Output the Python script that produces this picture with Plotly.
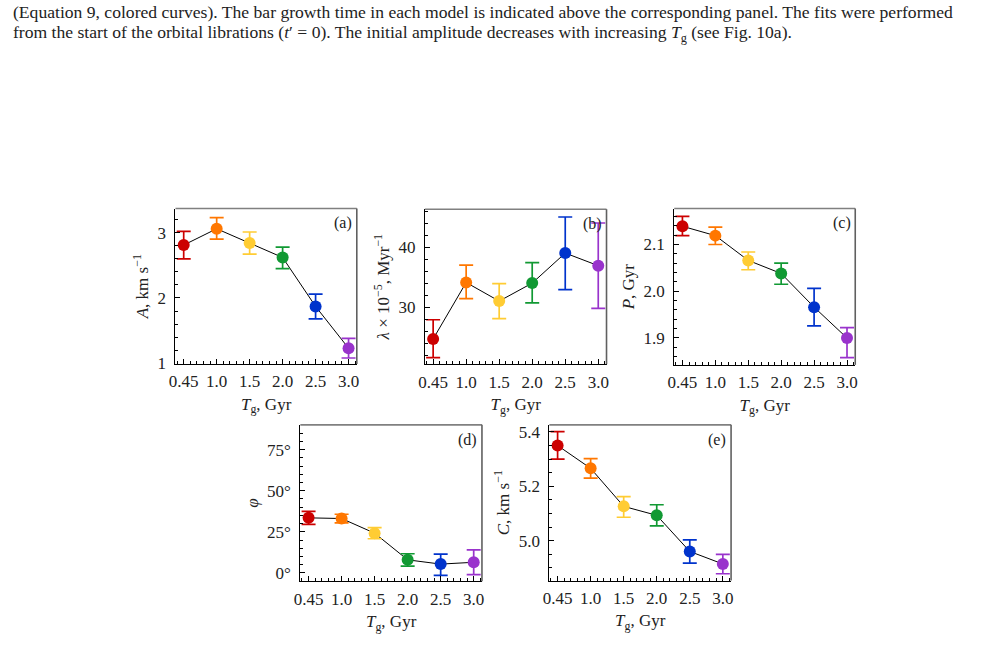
import plotly.graph_objects as go

# ---------------- data ----------------
categories = ["0.45", "1.0", "1.5", "2.0", "2.5", "3.0"]
colors = ["#cc0000", "#ff7700", "#ffcc33", "#119933", "#0033cc", "#9933cc"]

A_val = [2.81, 3.06, 2.84, 2.62, 1.87, 1.23]
A_hi = [3.02, 3.23, 3.01, 2.78, 2.06, 1.38]
A_lo = [2.60, 2.90, 2.67, 2.45, 1.68, 1.08]

lam_val = [24.7, 34.1, 31.0, 34.0, 39.0, 36.9]
lam_hi = [27.9, 37.0, 33.9, 37.4, 45.0, 44.0]
lam_lo = [21.6, 31.4, 28.1, 30.7, 32.9, 29.8]

P_val = [2.139, 2.119, 2.066, 2.038, 1.966, 1.900]
P_hi = [2.160, 2.137, 2.084, 2.060, 2.006, 1.922]
P_lo = [2.119, 2.100, 2.046, 2.015, 1.926, 1.858]

phi_val = [33.5, 33.1, 24.2, 8.0, 5.4, 6.5]
phi_hi = [37.5, 35.7, 27.6, 11.7, 11.5, 14.1]
phi_lo = [29.6, 30.4, 20.8, 4.2, -1.4, -1.0]

C_val = [5.350, 5.266, 5.126, 5.093, 4.960, 4.914]
C_hi = [5.401, 5.302, 5.162, 5.132, 5.003, 4.949]
C_lo = [5.300, 5.230, 5.086, 5.054, 4.917, 4.878]

caption1 = ("(Equation 9, colored curves). The bar growth time in each model is indicated above the "
            "corresponding panel. The fits were performed")
caption2 = ("from the start of the orbital librations (<i>t</i>′ = 0). The initial amplitude decreases "
            "with increasing <i>T</i><sub>g</sub> (see Fig. 10a).")

# ---------------- layout helpers ----------------
W, H = 993, 663
FONT = "Liberation Serif, DejaVu Serif, serif"
TXT = "#222"
TICK = 17

panels = [
    (A_val, A_hi, A_lo, (170, 353, 210, 368), [0.99, 3.37], [1, 2, 3], ["1", "2", "3"], 0.2,
     "<i>A</i>, km s<sup>−1</sup>", "(a)"),
    (lam_val, lam_hi, lam_lo, (421.7, 605, 210.7, 368.3), [20.5, 46.3], [30, 40], ["30", "40"], 2,
     "<i>λ</i> × 10<sup>−5</sup>, Myr<sup>−1</sup>", "(b)"),
    (P_val, P_hi, P_lo, (673.3, 856, 210, 369), [1.8425, 2.177], [1.9, 2.0, 2.1], ["1.9", "2.0", "2.1"], 0.02,
     "<i>P</i>, Gyr", "(c)"),
    (phi_val, phi_hi, phi_lo, (296, 479.3, 430, 589), [-5, 90], [0, 25, 50, 75], ["0°", "25°", "50°", "75°"], 5,
     "<i>φ</i>", "(d)"),
    (C_val, C_hi, C_lo, (547.3, 730.7, 430, 588.3), [4.853, 5.426], [5.0, 5.2, 5.4], ["5.0", "5.2", "5.4"], 0.05,
     "<i>C</i>, km s<sup>−1</sup>", "(e)"),
]

xpos = list(range(len(categories)))

fig = go.Figure()
layout = dict(
    width=W, height=H,
    margin=dict(l=0, r=0, t=0, b=0),
    paper_bgcolor="white", plot_bgcolor="white",
    showlegend=False,
    font=dict(family=FONT, size=TICK, color=TXT),
    annotations=[], shapes=[],
)

for i, (val, hi, lo, box, yr, tv, tt, mnr, ytitle, lab) in enumerate(panels):
    n = "" if i == 0 else str(i + 1)
    xa, ya = "x" + n, "y" + n
    x0, x1, y0, y1 = box
    fig.add_trace(go.Scatter(x=xpos, y=val, mode="lines", xaxis=xa, yaxis=ya,
                             line=dict(color="black", width=1), hoverinfo="skip"))
    for j in range(len(categories)):
        fig.add_trace(go.Scatter(
            x=[xpos[j]], y=[val[j]], mode="markers", xaxis=xa, yaxis=ya,
            marker=dict(color=colors[j], size=12, line=dict(width=0)),
            error_y=dict(type="data", symmetric=False,
                         array=[hi[j] - val[j]], arrayminus=[val[j] - lo[j]],
                         color=colors[j], thickness=1.7, width=7),
        ))
    layout["xaxis" + n] = dict(
        domain=[x0 / W, x1 / W], anchor=ya, range=[-0.25, 5.25],
        tickmode="array", tickvals=xpos, ticktext=categories,
        ticks="inside", ticklen=5, tickwidth=1, tickcolor="black",
        minor=dict(tickmode="linear", tick0=0, dtick=0.2, ticks="inside", ticklen=3,
                   tickwidth=1, tickcolor="black"),
        showline=True, linecolor="black", linewidth=1, mirror=False,
        showgrid=False, zeroline=False, fixedrange=True,
        ticklabelstandoff=2,
        tickfont=dict(family=FONT, size=TICK, color=TXT),
        title=dict(text="<i>T</i><sub>g</sub>, Gyr", font=dict(family=FONT, size=TICK, color=TXT),
                   standoff=7),
    )
    layout["yaxis" + n] = dict(
        domain=[1 - y1 / H, 1 - y0 / H], anchor=xa, range=yr,
        tickmode="array", tickvals=tv, ticktext=tt,
        ticks="inside", ticklen=5, tickwidth=1, tickcolor="black",
        minor=dict(tickmode="linear", tick0=0, dtick=mnr, ticks="inside", ticklen=3,
                   tickwidth=1, tickcolor="black"),
        showline=True, linecolor="black", linewidth=1, mirror=False,
        showgrid=False, zeroline=False, fixedrange=True,
        ticklabelstandoff=5,
        tickfont=dict(family=FONT, size=TICK, color=TXT),
        title=dict(text=ytitle, font=dict(family=FONT, size=TICK, color=TXT), standoff=4),
    )
    layout["shapes"].append(dict(type="line", xref=xa + " domain", yref=ya + " domain",
                                 x0=0, x1=1, y0=1, y1=1, line=dict(color="#808080", width=1.6)))
    layout["shapes"].append(dict(type="line", xref=xa + " domain", yref=ya + " domain",
                                 x0=1, x1=1, y0=0, y1=1, line=dict(color="#606060", width=1.6)))
    layout["annotations"].append(dict(
        text=lab, xref=xa + " domain", yref=ya + " domain", x=0.985, y=0.975,
        xanchor="right", yanchor="top", showarrow=False,
        font=dict(family=FONT, size=16, color=TXT)))

layout["annotations"].append(dict(text=caption1, xref="paper", yref="paper", x=4 / W, y=1.0 + 2 / H,
                                  xanchor="left", yanchor="top", showarrow=False, align="left",
                                  font=dict(family=FONT, size=17.6, color=TXT)))
layout["annotations"].append(dict(text=caption2, xref="paper", yref="paper", x=4 / W, y=1 - 18 / H,
                                  xanchor="left", yanchor="top", showarrow=False, align="left",
                                  font=dict(family=FONT, size=17.6, color=TXT)))

fig.update_layout(**layout)
fig.write_html("out.html")
